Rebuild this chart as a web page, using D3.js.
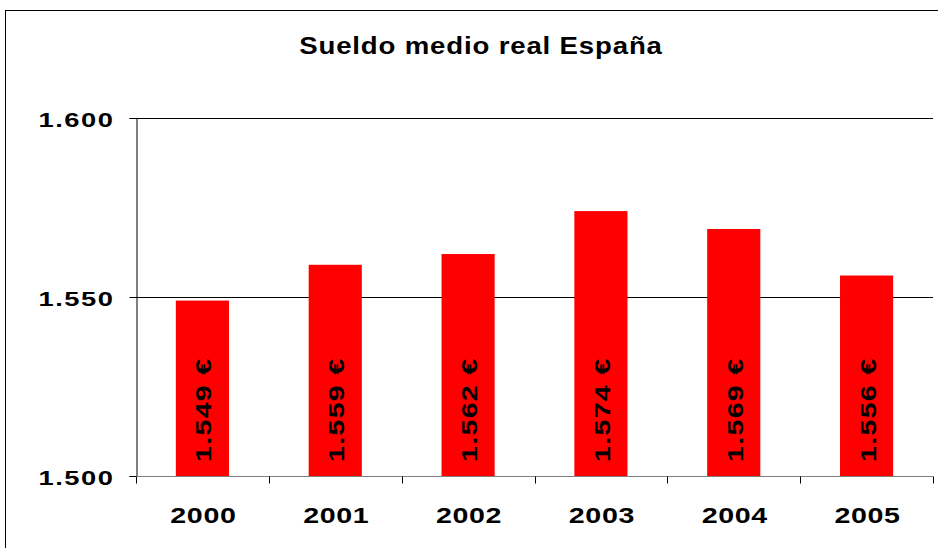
<!DOCTYPE html>
<html lang="es">
<head>
<meta charset="UTF-8" />
<title>Sueldo medio real España</title>
<style>
  body { margin: 0; background: #fff; }
  svg { display: block; font-family: "Liberation Sans", Arial, sans-serif; }
  .frame { fill: none; stroke: #000; stroke-width: 1; }
  .grid line { stroke: #000; stroke-width: 1; }
  .title { font-size: 23px; font-weight: bold; letter-spacing: 0.7px; }
  .ylab { font-size: 21px; font-weight: bold; letter-spacing: 1.2px; }
  .xlab { font-size: 22px; font-weight: bold; letter-spacing: 0.5px; }
  .vlab { font-size: 22px; font-weight: bold; letter-spacing: 1px; }
</style>
</head>
<body>
<svg width="938" height="548"></svg>
<script src="https://d3js.org/d3.v7.min.js"></script>
<script>
  // datos
  const years = ["2000", "2001", "2002", "2003", "2004", "2005"];
  const sueldos = [1549, 1559, 1562, 1574, 1569, 1556];
  const yTicks = [1500, 1550, 1600];

  const es = d3.formatLocale({ decimal: ",", thousands: ".", grouping: [3], currency: ["", " €"] });
  const fmt = es.format(",d");

  const svg = d3.select("svg");
  const plotL = 136, plotR = 933, plotT = 118, plotB = 476;

  // marco exterior
  svg.append("rect").attr("class", "frame")
    .attr("x", 5.5).attr("y", 10.5).attr("width", 1000).attr("height", 1000);

  // el texto del original sale estirado en horizontal
  svg.append("text").attr("class", "title")
    .attr("transform", "translate(481,54) scale(1.2,1)")
    .attr("text-anchor", "middle")
    .text("Sueldo medio real España");

  const x = d3.scaleBand().domain(years).range([plotL, plotR])
    .paddingInner(0.6).paddingOuter(0.3);
  const y = d3.scaleLinear().domain([1500, 1600]).range([plotB, plotT]);

  // lineas de division
  svg.append("g").attr("class", "grid")
    .selectAll("line").data(yTicks.filter(d => d > 1500)).join("line")
    .attr("x1", plotL).attr("x2", plotR)
    .attr("y1", d => Math.round(y(d)) + 0.5).attr("y2", d => Math.round(y(d)) + 0.5);

  // barras
  svg.append("g").selectAll("rect").data(sueldos).join("rect")
    .attr("x", (d, i) => x(years[i]))
    .attr("y", d => y(d))
    .attr("width", x.bandwidth())
    .attr("height", d => y(1500) - y(d))
    .attr("fill", "#ff0000");

  // etiquetas de valor
  svg.append("g").selectAll("text").data(sueldos).join("text")
    .attr("class", "vlab")
    .attr("transform", (d, i) => `translate(${x(years[i]) + x.bandwidth() / 2 + 1},${plotB - 14}) rotate(-90) scale(1.3,1)`)
    .attr("dy", "0.36em")
    .text(d => fmt(d) + " €");

  // eje Y
  const yAxis = svg.append("g").attr("transform", `translate(${plotL + 0.5},0)`)
    .call(d3.axisLeft(y).tickValues(yTicks).tickSize(7).tickFormat(fmt));
  yAxis.attr("font-family", null).attr("font-size", null);
  yAxis.select(".domain").attr("stroke", "#000");
  yAxis.selectAll(".tick line").attr("stroke", "#000");
  yAxis.selectAll(".tick text").attr("class", "ylab").attr("fill", "#000")
    .attr("x", null).attr("dy", "0.42em")
    .attr("transform", "translate(-22,0) scale(1.3,1)");

  // eje X
  const xAxis = svg.append("g").attr("transform", `translate(0,${plotB + 0.5})`);
  xAxis.append("line").attr("x1", plotL).attr("x2", plotR).attr("stroke", "#808080");
  const bounds = d3.range(years.length + 1).map(i => plotL + i * x.step());
  xAxis.selectAll(".tk").data(bounds).join("line").attr("class", "tk")
    .attr("x1", d => Math.round(d) + 0.5).attr("x2", d => Math.round(d) + 0.5)
    .attr("y1", 0).attr("y2", 7).attr("stroke", "#000");
  xAxis.selectAll(".xlab").data(years).join("text").attr("class", "xlab")
    .attr("transform", d => `translate(${x(d) + x.bandwidth() / 2 + 1},46) scale(1.3,1)`)
    .attr("text-anchor", "middle")
    .text(d => d);
</script>
</body>
</html>
